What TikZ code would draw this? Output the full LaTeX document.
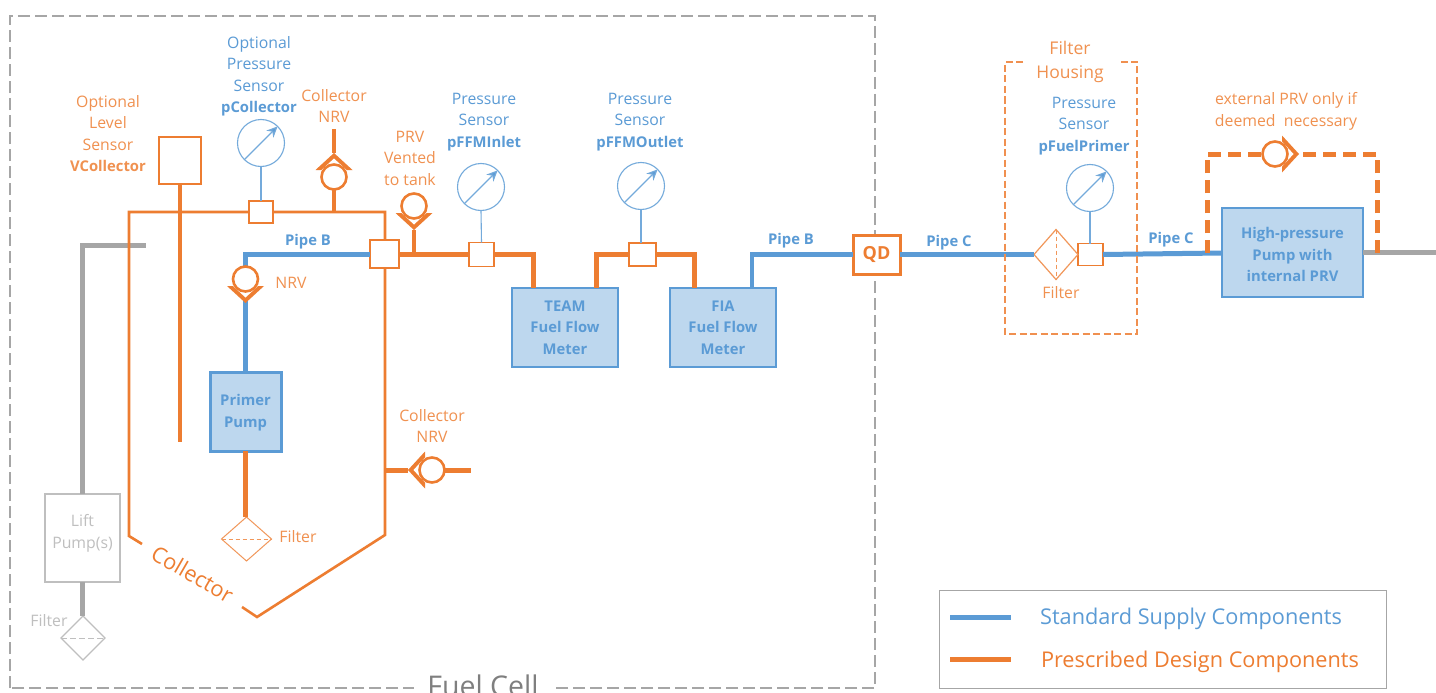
\documentclass[tikz,border=0pt]{standalone}
\usepackage{fontspec}
\setmainfont{Open Sans}
\usetikzlibrary{shapes.geometric,arrows.meta}
\definecolor{org}{HTML}{ED7D31}
\definecolor{blu}{HTML}{5B9BD5}
\definecolor{lblu}{HTML}{BDD7EE}
\definecolor{gry}{HTML}{A6A6A6}
\definecolor{lgry}{HTML}{BFBFBF}
\definecolor{dgry}{HTML}{7F7F7F}
\newcommand{\regsize}{\fontsize{15.8}{21.5}\selectfont}
\newcommand{\boldsize}{\fontsize{14.8}{21.5}\selectfont\bfseries}
\newcommand{\bld}[1]{{\boldsize #1}}
\tikzset{
  every node/.style={inner sep=0pt,outer sep=0pt},
  txt/.style={align=center,font=\regsize},
  orgtxt/.style={txt,text=org!85!white},
  blutxt/.style={txt,text=blu},
  pipelabel/.style={align=center,font=\boldsize,text=blu},
  sq/.style={draw=org,fill=white,line width=1.3pt},
  pumpbox/.style={draw=blu,fill=lblu,line width=2pt,text=blu,align=center,font=\boldsize},
  gauge/.style={circle,draw=blu!85!white,fill=white,line width=1.1pt,minimum size=47pt},
  gaugearrow/.style={draw=blu!85!white,line width=1.2pt,-{Stealth[length=11pt,width=10pt,fill=blu]}},
  tap/.style={draw=blu!85!white,line width=1.1pt},
  valve/.style={circle,draw=org,fill=white,line width=2.6pt,minimum size=25pt},
  thinpipe/.style={draw=org,line width=2.6pt},
  opipe/.style={draw=org,line width=5pt},
  bpipe/.style={draw=blu,line width=5pt},
  gpipe/.style={draw=gry,line width=5pt},
}
% name, position, angle: a chevron with named tip and back points
\newcommand{\chevron}[3]{%
  \begin{scope}[shift={(#2)},rotate=#3]
    \fill[org] (24,0) -- (7,18.5) -- (7,-18.5) -- cycle;
    \fill[white] (18.5,0) -- (7,12.5) -- (7,-12.5) -- cycle;
    \coordinate (#1-tip) at (24,0);
    \coordinate (#1-back) at (-13,0);
  \end{scope}
  \node[valve] (#1) at (#2) {};}
\begin{document}
\begin{tikzpicture}[x=1pt,y=-1pt]
\useasboundingbox (0,0) rectangle (1436,693);
\fill[white] (0,0) rectangle (1436,693);
% Fuel cell
\draw[draw=gry,line width=1.1pt,dash pattern=on 12pt off 5pt] (10,688) rectangle (875,16);
\node[fill=white,font=\fontsize{28.5}{30}\selectfont,text=dgry,minimum width=138pt,minimum height=24pt,anchor=center] (fuelcell) at (483,686) {Fuel Cell};
% Nodes
\node[sq,minimum width=42pt,minimum height=47pt,anchor=north west] (level) at (159,137) {};
\node[sq,minimum width=24pt,minimum height=22pt] (s1) at (261,212) {};
\node[sq,minimum width=25pt,minimum height=24pt] (s2) at (481.5,254.5) {};
\node[sq,minimum width=27pt,minimum height=23pt] (s3) at (642.5,254.5) {};
\node[sq,minimum width=25pt,minimum height=22pt] (s4) at (1090.5,254.5) {};
\node[gauge] (g1) at (261,143) {};
\node[gauge] (g2) at (481,187) {};
\node[gauge] (g3) at (641,186) {};
\node[gauge] (g4) at (1090,188) {};
\foreach \g in {g1,g2,g3,g4}{\draw[gaugearrow] (\g.225) -- (\g.45);}
\node[pumpbox,minimum width=71pt,minimum height=79pt,line width=3pt] (primer) at (245.5,411.5) {};
\node[pipelabel] (primertxt) at (245.5,412.5) {Primer\\Pump};
\node[pumpbox,minimum width=106pt,minimum height=79pt] (team) at (565,327.5) {TEAM\\Fuel Flow\\Meter};
\node[pumpbox,minimum width=106pt,minimum height=79pt] (fia) at (723,327.5) {FIA\\Fuel Flow\\Meter};
\node[pumpbox,minimum width=141pt,minimum height=89pt,line width=2.6pt] (hp) at (1292.5,252.5) {};
\node[pipelabel] (hptxt) at (1292.5,254.5) {High-pressure\\Pump with\\internal PRV};
\node[draw=org,fill=white,line width=3pt,minimum width=47pt,minimum height=39pt,text=org,font=\fontsize{18}{20}\selectfont\bfseries] (qd) at (876.5,254.5) {\raisebox{-2pt}{QD}};
\node[draw=lgry,fill=white,line width=1.3pt,minimum width=75pt,minimum height=88pt] (lift) at (82.5,538) {};
\node[txt,text=lgry] (lifttxt) at (82.5,533.5) {Lift\\Pump(s)};
\node[diamond,draw=org!80!white,fill=white,line width=1pt,minimum width=50pt,minimum height=44pt] (f1) at (246.5,539) {};
\draw[draw=org!80!white,line width=1pt,dash pattern=on 4pt off 3pt] (f1.west) -- (f1.east);
\node[diamond,draw=lgry,fill=white,line width=1.1pt,minimum width=44pt,minimum height=44pt] (f2) at (83,638) {};
\draw[draw=lgry,line width=1pt,dash pattern=on 6pt off 3pt] (f2.west) -- (f2.east);
\node[diamond,draw=org!80!white,fill=white,line width=1.2pt,minimum width=44pt,minimum height=50pt] (f3) at (1056,254.5) {};
\draw[draw=org!80!white,line width=1pt,dash pattern=on 4pt off 3pt] (f3.north) -- (f3.south);
% Coordinates
\coordinate (c1) at (334,212);
\coordinate (c1top) at (334,129);
\coordinate (c2) at (414,254);
\coordinate (c3) at (385,470);
\coordinate (c3end) at (471,470);
\coordinate (c4) at (1207,253);
\coordinate (c5) at (1377,253);
\coordinate (lvlend) at (180,442);
\coordinate (gtop) at (83,245);
\coordinate (gend) at (146,245);
\coordinate (gright) at (1436,252);
% gray pipes
\draw[gpipe] (lift.north) -- (lift.north |- gtop) -- (gend);
\draw[gpipe] (lift.south) -- (lift.south |- f2.north);
\draw[gpipe] (hp.east |- gright) -- (gright);
% collector outline, with the junction box over it
\draw[thinpipe] (s1.west) -- (129,212) -- (129,536) -- (142,544);
\draw[thinpipe] (s1.east) -- (385,212) -- (385,535) -- (257,617) -- (242,607);
\node[sq,minimum width=29pt,minimum height=28pt] (j0) at (384.5,254) {};
\node[text=org,font=\fontsize{21.8}{24}\selectfont,rotate=-30] (collabel) at (192.5,574) {Collector};
% sensors
\draw[tap] (g1.south) -- (s1.north);
\draw[tap] (g2.south) -- (s2.north);
\draw[tap] (g3.south) -- (g3.south |- s3.north);
\draw[tap] (g4.south) -- (g4.south |- s4.north);
% blue
\draw[bpipe] (primer.north) -- (primer.north |- j0.west) -- (j0.west);
\draw[bpipe,line width=4.5pt] (752,288) -- (752,254.5) -- (qd.west);
\draw[bpipe] (qd.east) -- (f3.west);
\draw[bpipe] (s4.east) -- (hp.west |- c4);
% Valves
\chevron{vc}{334,177}{90}
\chevron{vp}{414,206}{-90}
\chevron{vn}{245.5,279}{-90}
\chevron{vl}{432,470}{180}
% orange thick
\draw[opipe,line width=4.5pt] (level.south) -- (lvlend);
\draw[opipe,line width=4.5pt] (c1top) -- (vc-tip);
\draw[opipe,line width=4.5pt] (c1) -- (vc-back);
\draw[opipe] (j0.east) -- (j0.east -| s2.west);
\draw[opipe,line width=4.5pt] (vp-tip) -- (c2);
\draw[opipe] (s2.east) -- (533,254.5) -- (533,288);
\draw[opipe] (596,288) -- (596,254.5) -- (s3.west);
\draw[opipe] (s3.east) -- (694,254.5) -- (694,288);
\draw[opipe] (primer.south) -- (primer.south |- f1.north);
\draw[opipe] (c3) -- (vl-tip);
\draw[opipe] (vl-back) -- (c3end);
% external PRV
\draw[opipe,dash pattern=on 13pt off 7pt] (c4) -- (1207,154) -- (1262,154);
\draw[opipe,dash pattern=on 13pt off 7pt] (c5) -- (1377,154) -- (1300,154);
\chevron{vx}{1275,154}{0}
% housing
\draw[draw=org!85!white,line width=1.3pt,dash pattern=on 7pt off 3.5pt] (1023,62) -- (1005,62) -- (1005,334) -- (1137,334) -- (1137,62) -- (1118,62);
% labels
\node[orgtxt] (t1) at (108,133.5) {Optional\\Level\\Sensor\\\bld{VCollector}};
\node[blutxt] (t2) at (259,76.5) {Optional\\Pressure\\Sensor\\\bld{pCollector}};
\node[orgtxt] (t3) at (334,106) {Collector\\NRV};
\node[orgtxt] (t4) at (410,158) {PRV\\Vented\\to tank};
\node[blutxt] (t5) at (484,122) {Pressure\\Sensor\\\bld{pFFMInlet}};
\node[blutxt] (t6) at (640,122) {Pressure\\Sensor\\\bld{pFFMOutlet}};
\node[pipelabel] (t7) at (308,241.5) {Pipe B};
\node[pipelabel] (t8) at (791,240.5) {Pipe B};
\node[pipelabel] (t9) at (949,242.5) {Pipe C};
\node[pipelabel] (t10) at (1171,239.5) {Pipe C};
\node[orgtxt] (t11) at (291,283) {NRV};
\node[orgtxt] (t12) at (432,426) {Collector\\NRV};
\node[orgtxt] (t13) at (298,537) {Filter};
\node[txt,text=lgry] (t14) at (49,621) {Filter};
\node[orgtxt] (t15) at (1061,293) {Filter};
\node[blutxt] (t16) at (1084,126) {Pressure\\Sensor\\\bld{pFuelPrimer}};
\node[orgtxt,font=\fontsize{17.5}{24}\selectfont] (t17) at (1070,61.5) {Filter\\Housing};
\node[orgtxt] (t18) at (1286,111.5) {external PRV only if\\deemed\ \ necessary};
% legend
\node[draw=gry,fill=white,line width=1pt,minimum width=447pt,minimum height=98pt] (legend) at (1162.5,639) {};
\coordinate (l1a) at (950,617); \coordinate (l1b) at (1011,617);
\coordinate (l2a) at (950,659); \coordinate (l2b) at (1011,659);
\draw[bpipe] (l1a) -- (l1b);
\draw[opipe] (l2a) -- (l2b);
\node[text=blu,font=\fontsize{21.7}{24}\selectfont] (lt1) at (1191,618.5) {Standard Supply Components};
\node[text=org,font=\fontsize{21.7}{24}\selectfont] (lt2) at (1200,661.5) {Prescribed Design Components};
\end{tikzpicture}
\end{document}
